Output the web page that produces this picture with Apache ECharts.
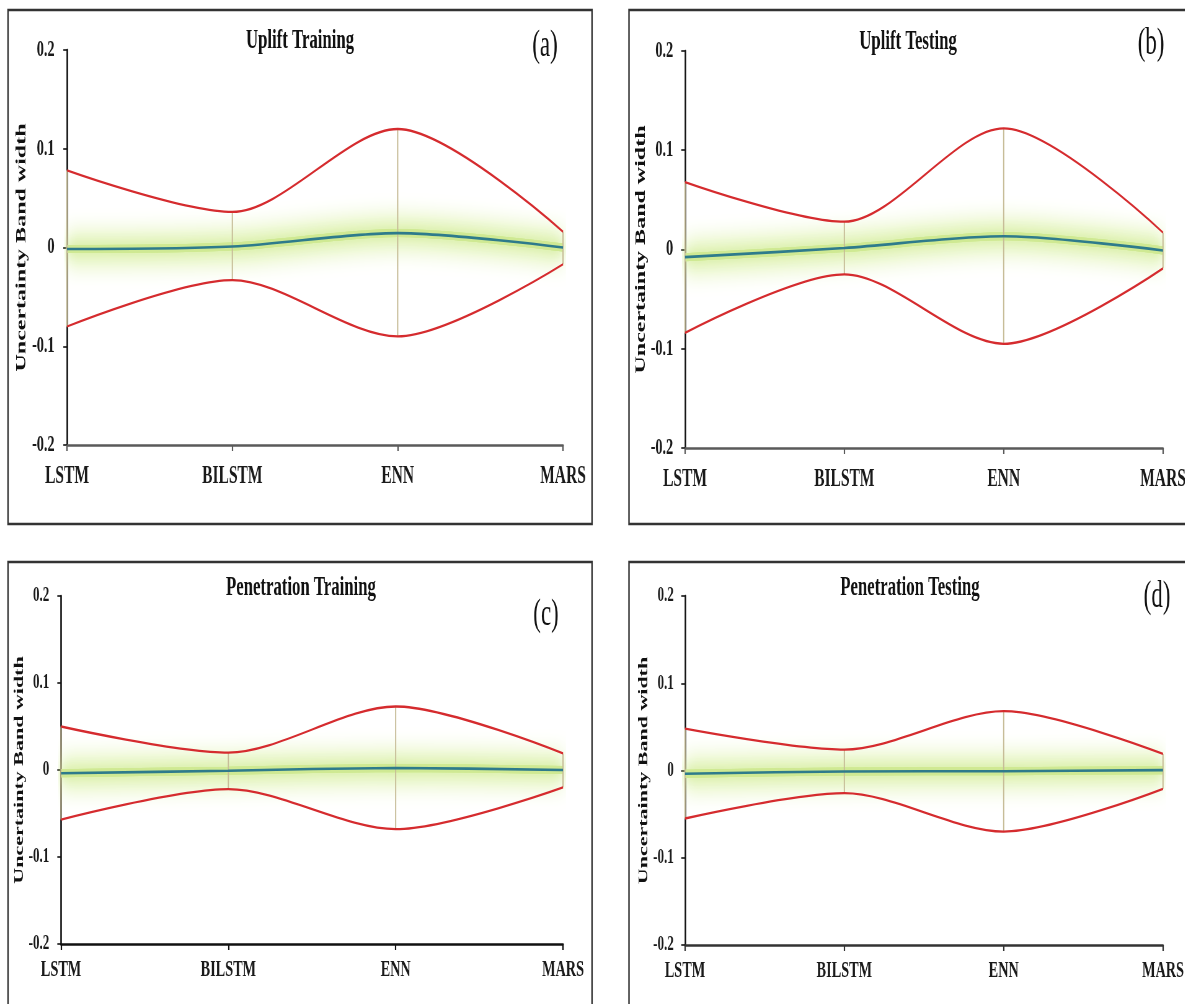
<!DOCTYPE html>
<html>
<head>
<meta charset="utf-8">
<script src="https://cdn.jsdelivr.net/npm/echarts@6.0.0/dist/echarts.min.js"></script>
<style>
html,body{margin:0;padding:0;background:#fff;overflow:hidden;}
#wrap{width:1185px;height:1004px;overflow:hidden;position:relative;background:#fff;}
#chart{height:1004px;transform-origin:0 0;}
</style>
</head>
<body>
<div id="wrap"><div id="chart"></div></div>
<script>
// ---------------- data ----------------
const CATEGORIES = ['LSTM', 'BILSTM', 'ENN', 'MARS'];
const Y_TICKS = [-0.2, -0.1, 0, 0.1, 0.2];

const UPLIFT_TRAIN_UPPER = [0.078, 0.036, 0.120, 0.016];
const UPLIFT_TRAIN_LOWER = [-0.080, -0.033, -0.090, -0.017];
const UPLIFT_TRAIN_MEAN  = [-0.0015, 0.001, 0.0146, 0.000];

const UPLIFT_TEST_UPPER = [0.068, 0.028, 0.122, 0.017];
const UPLIFT_TEST_LOWER = [-0.084, -0.025, -0.095, -0.019];
const UPLIFT_TEST_MEAN  = [-0.0077, 0.0015, 0.0134, -0.001];

const PEN_TRAIN_UPPER = [0.050, 0.020, 0.073, 0.019];
const PEN_TRAIN_LOWER = [-0.057, -0.022, -0.068, -0.020];
const PEN_TRAIN_MEAN  = [-0.0038, -0.0008, 0.0023, 0.000];

const PEN_TEST_UPPER = [0.048, 0.024, 0.068, 0.019];
const PEN_TEST_LOWER = [-0.055, -0.026, -0.070, -0.021];
const PEN_TEST_MEAN  = [-0.0038, -0.0011, -0.0008, 0.0004];

const TITLES = ['Uplift Training', 'Uplift Testing', 'Penetration Training', 'Penetration Testing'];
const TAGS = ['(a)', '(b)', '(c)', '(d)'];
const Y_NAME = 'Uncertainty Band width';

// ---------------- layout (the original picture is horizontally squeezed) ----------------
const S = 0.62;                 // horizontal squeeze factor
const W = Math.round(1185 / S);
const X = v => v / S;           // real x -> drawing x
const chartDiv = document.getElementById('chart');
chartDiv.style.width = W + 'px';
chartDiv.style.transform = 'scaleX(' + S + ')';

const FONT = '"Liberation Serif", "Times New Roman", serif';
const SMOOTH = 0.3;

const panels = [
  { upper: UPLIFT_TRAIN_UPPER, lower: UPLIFT_TRAIN_LOWER, mean: UPLIFT_TRAIN_MEAN,
    gx0: 67, gx1: 563, top: 50, height: 395,
    frame: [8, 10, 592, 524], xAxisColor: '#5a5a5a',
    title: [300, 41], tag: [545, 46],
    nameGap: 61, nameSize: 24, tickSize: 23, catSize: 25, yMargin: 20, xMargin: 19 },
  { upper: UPLIFT_TEST_UPPER, lower: UPLIFT_TEST_LOWER, mean: UPLIFT_TEST_MEAN,
    gx0: 685, gx1: 1163, top: 51, height: 397,
    frame: [629, 10, 1400, 524], xAxisColor: '#5a5a5a',
    title: [908, 42], tag: [1151, 44],
    nameGap: 58, nameSize: 24, tickSize: 23, catSize: 25, yMargin: 19, xMargin: 19 },
  { upper: PEN_TRAIN_UPPER, lower: PEN_TRAIN_LOWER, mean: PEN_TRAIN_MEAN,
    gx0: 61, gx1: 563, top: 596, height: 348,
    frame: [8, 562, 592, 1100], xAxisColor: '#111',
    title: [301, 588], tag: [546, 615],
    nameGap: 56, nameSize: 22, tickSize: 21, catSize: 23, yMargin: 19, xMargin: 15 },
  { upper: PEN_TEST_UPPER, lower: PEN_TEST_LOWER, mean: PEN_TEST_MEAN,
    gx0: 685, gx1: 1163, top: 596, height: 349,
    frame: [629, 562, 1400, 1100], xAxisColor: '#333',
    title: [910, 588], tag: [1157, 597],
    nameGap: 56, nameSize: 22, tickSize: 21, catSize: 23, yMargin: 18, xMargin: 15 }
];

const grids = [], xAxes = [], yAxes = [], series = [], graphics = [];

panels.forEach((p, i) => {
  grids.push({
    left: X(p.gx0), top: p.top, width: X(p.gx1) - X(p.gx0), height: p.height,
    containLabel: false, outerBoundsMode: 'none'
  });
  xAxes.push({
    type: 'category', gridIndex: i, data: CATEGORIES, boundaryGap: false,
    axisLine: { show: true, onZero: false, lineStyle: { color: p.xAxisColor, width: 2.6 } },
    axisTick: { show: true, length: 6, lineStyle: { color: p.xAxisColor, width: 2.2 } },
    axisLabel: { margin: p.xMargin, fontFamily: FONT, fontWeight: 'bold', fontSize: p.catSize, color: '#1a1a1a', interval: 0 },
    splitLine: { show: false }
  });
  yAxes.push({
    type: 'value', gridIndex: i, min: Y_TICKS[0], max: Y_TICKS[Y_TICKS.length - 1], interval: 0.1,
    axisLine: { show: true, lineStyle: { color: '#111', width: 2.6 } },
    axisTick: { show: true, length: 6, lineStyle: { color: '#111', width: 1.6 } },
    axisLabel: { margin: p.yMargin, fontFamily: FONT, fontWeight: 'bold', fontSize: p.tickSize, color: '#1a1a1a',
      formatter: v => String(Math.round(v * 10) / 10) },
    splitLine: { show: false },
    name: Y_NAME, nameLocation: 'middle', nameGap: p.nameGap,
    nameTextStyle: { fontFamily: FONT, fontWeight: 'bold', fontSize: p.nameSize, color: '#111' }
  });

  // green glow around the mean line: soft halo shifted up and down, then a core
  [-10, 10].forEach(off => series.push({
    type: 'line', xAxisIndex: i, yAxisIndex: i, data: p.mean, smooth: SMOOTH, symbol: 'none', silent: true, z: 1,
    lineStyle: { width: 8, color: '#d2eb99', shadowBlur: 22, shadowOffsetY: off, shadowColor: 'rgba(200,232,124,1)' }
  }));
  series.push({
    type: 'line', xAxisIndex: i, yAxisIndex: i, data: p.mean, smooth: SMOOTH, symbol: 'none', silent: true, z: 1,
    lineStyle: { width: 8, color: '#cfe993', shadowBlur: 14, shadowColor: 'rgba(204,234,136,1)' }
  });
  // tan vertical lines between bounds
  series.push({
    type: 'custom', xAxisIndex: i, yAxisIndex: i, silent: true, z: 2,
    data: CATEGORIES.map((c, j) => [j, p.lower[j], p.upper[j]]),
    encode: { x: 0, y: [1, 2] },
    renderItem: (params, api) => {
      const a = api.coord([api.value(0), api.value(1)]);
      const b = api.coord([api.value(0), api.value(2)]);
      return { type: 'line', shape: { x1: a[0], y1: a[1], x2: b[0], y2: b[1] },
        style: { stroke: '#c7bd98', lineWidth: 2 } };
    }
  });
  // bounds
  [p.upper, p.lower].forEach(d => series.push({
    type: 'line', xAxisIndex: i, yAxisIndex: i, data: d, smooth: SMOOTH, symbol: 'none', silent: true, z: 3,
    lineStyle: { width: 2.3, color: '#d52b2e' }
  }));
  // mean
  series.push({
    type: 'line', xAxisIndex: i, yAxisIndex: i, data: p.mean, smooth: SMOOTH, symbol: 'none', silent: true, z: 4,
    lineStyle: { width: 2.6, color: '#2e7b8b' }
  });

  // frame, title, tag
  const [fx0, fy0, fx1, fy1] = p.frame;
  graphics.push({
    type: 'rect', silent: true, z: 0,
    shape: { x: X(fx0), y: fy0, width: X(fx1) - X(fx0), height: fy1 - fy0 },
    style: { fill: 'none', stroke: '#333', lineWidth: 2.4 }
  });
  graphics.push({
    type: 'text', silent: true, x: X(p.title[0]), y: p.title[1],
    style: { text: TITLES[i], font: 'bold 27px ' + FONT, fill: '#111', align: 'center', verticalAlign: 'middle' }
  });
  graphics.push({
    type: 'text', silent: true, x: X(p.tag[0]), y: p.tag[1],
    style: { text: TAGS[i], font: '37px ' + FONT, fill: '#111', align: 'center', verticalAlign: 'middle' }
  });
});

const chart = echarts.init(chartDiv, null, { renderer: 'canvas' });
chart.setOption({
  backgroundColor: '#fff',
  animation: false,
  grid: grids,
  xAxis: xAxes,
  yAxis: yAxes,
  series: series,
  graphic: graphics
});
</script>
</body>
</html>
